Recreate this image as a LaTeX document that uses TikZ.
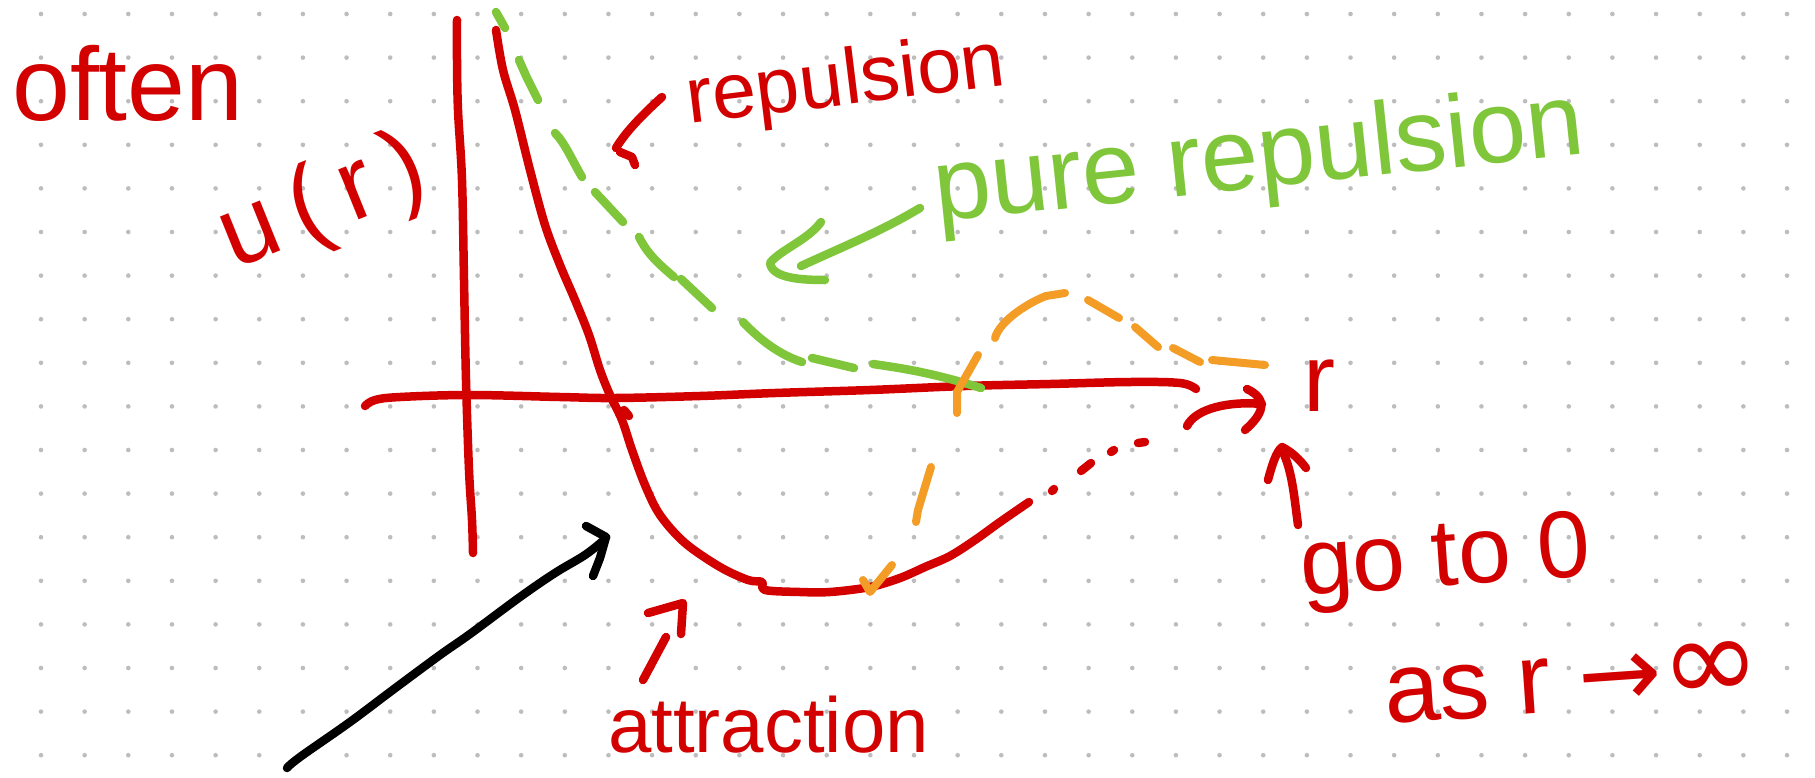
\documentclass[tikz,border=0pt]{standalone}
\usepackage{fontspec}
\setmainfont{Liberation Sans}
\newfontfamily\symfont{DejaVu Sans}
\newfontfamily\spreadfont[LetterSpace=18]{Liberation Sans}
\definecolor{penred}{HTML}{D30000}
\definecolor{pengreen}{HTML}{7FC63A}
\definecolor{penorange}{HTML}{F39C26}
\definecolor{dotgray}{HTML}{BDBDBD}
\tikzset{
  redpen/.style={draw=penred, line width=8.5pt, line cap=round, line join=round},
  greenpen/.style={draw=pengreen, line width=8.5pt, line cap=round, line join=round},
  orangepen/.style={draw=penorange, line width=8pt, line cap=round, line join=round},
  blackpen/.style={draw=black, line width=8.5pt, line cap=round, line join=round},
  handtext/.style={inner sep=0pt, anchor=base west, font=\fontsize{#1}{#1}\selectfont},
}
\begin{document}
\begin{tikzpicture}[x=1pt,y=-1pt]
\useasboundingbox (0,0) rectangle (1815,777);
\fill[white] (0,0) rectangle (1815,777);
% dot grid
\foreach \i in {0,...,40}{
  \foreach \j in {0,...,17}{
    \fill[dotgray] ({41+43.65*\i},{14+43.6*\j}) circle[radius=2.3pt];
  }
}
% axes
\draw[redpen] plot[smooth, tension=0.6] coordinates {(457,20) (457,60) (458,110) (462,180) (464,280) (466,380) (469,470) (472,520) (473,553)};
\draw[redpen] plot[smooth, tension=0.6] coordinates {(365,406) (375,400) (400,397) (470,395) (560,397) (615,398) (700,396) (775,393) (870,390) (965,386) (1050,384) (1130,382) (1180,383) (1196,389)};
% green dashed curve (pure repulsion)
\draw[greenpen] (496,12) -- (505,28);
\draw[greenpen] (519,60) -- (527,78) -- (538,100);
\draw[greenpen] (555,133) .. controls (565,143) and (572,160) .. (582,177);
\draw[greenpen] (595,192) -- (623,222);
\draw[greenpen] (639,237) .. controls (648,255) and (660,265) .. (674,277);
\draw[greenpen] (681,279) -- (712,308);
\draw[greenpen] (743,322) .. controls (760,340) and (780,355) .. (802,362);
\draw[greenpen] (812,358) -- (854,368);
\draw[greenpen] (873,364) .. controls (900,368) and (930,372) .. (981,388);
% red curve u(r)
\draw[redpen] plot[smooth, tension=0.55] coordinates {(496,30) (503,70) (515,110) (530,170) (545,225) (560,265) (575,300) (589,335) (600,370) (610,395) (622,420) (632,450) (645,485) (660,515) (685,543) (720,567) (748,580) (762,582) (765,590) (800,592) (830,592) (870,587) (900,578) (925,567) (950,556) (975,540) (1000,522) (1029,502)};
\draw[redpen] (624,410) -- (629,416);
\draw[redpen] (1052,491) -- (1054,489);
\draw[redpen] (1081,471) -- (1091,463);
\draw[redpen] (1111,452) -- (1114,450);
\draw[redpen] (1138,443) -- (1145,442);
% orange dashed curve
\draw[orangepen] (863,580) -- (870,592) -- (892,565);
\draw[orangepen] (931,467) -- (918,510) -- (916,522);
\draw[orangepen] (978,355) -- (957,392) -- (957,413);
\draw[orangepen] (995,338) .. controls (1000,320) and (1030,302) .. (1046,296) -- (1065,293);
\draw[orangepen] (1088,300) -- (1119,318);
\draw[orangepen] (1135,327) -- (1158,347);
\draw[orangepen] (1173,348) -- (1200,362);
\draw[orangepen] (1212,360) -- (1265,365);
% arrow to r
\draw[redpen] (1187,426) .. controls (1196,408) and (1230,401) .. (1262,404);
\draw[redpen] (1247,389) .. controls (1270,400) and (1262,415) .. (1245,430);
% arrow from "go to 0"
\draw[redpen] (1298,525) .. controls (1294,495) and (1292,470) .. (1282,450);
\draw[redpen] (1268,480) .. controls (1272,465) and (1276,452) .. (1282,447) .. controls (1292,452) and (1300,460) .. (1306,468);
% repulsion pointer
\draw[redpen] (662,97) .. controls (650,108) and (628,128) .. (616,148);
\draw[redpen] (620,152) -- (632,157) -- (635,165);
% pure repulsion arrow
\draw[greenpen] (920,208) .. controls (880,232) and (840,248) .. (801,266);
\draw[greenpen] (821,222) .. controls (808,240) and (780,250) .. (770,263) .. controls (772,278) and (800,280) .. (825,280);
% attraction pointer
\draw[redpen] (648,613) -- (683,603) -- (681,634);
\draw[redpen] (666,637) -- (643,680);
% black arrow
\draw[blackpen] plot[smooth, tension=0.6] coordinates {(287,768) (300,757) (350,722) (394,689) (440,655) (470,634) (520,597) (555,573) (585,555) (604,540)};
\draw[blackpen] (586,526) -- (606,537) -- (600,558) -- (593,576);
% texts
\node[handtext=104, text=penred] (often) at (12,120) {often};
\node[inner sep=0pt, anchor=base west, text=penred, rotate=22, font=\spreadfont\fontsize{102}{102}\selectfont] (ur) at (234,270) {u(r)};
\node[handtext=79, text=penred, rotate=7] (rep) at (689,124) {repulsion};
\node[handtext=103, text=pengreen, rotate=6] (pure) at (937,222) {pure repulsion};
\node[handtext=96, text=penred] (r) at (1303,411) {r};
\node[handtext=95, text=penred, rotate=4] (goto) at (1302,596) {go to 0};
\node[handtext=100, text=penred, rotate=4] (asr) at (1386,724) {as r {\symfont →}{\fontsize{120}{120}\symfont ∞}};
\node[handtext=78, text=penred] (attr) at (608,752) {attraction};
\end{tikzpicture}
\end{document}
